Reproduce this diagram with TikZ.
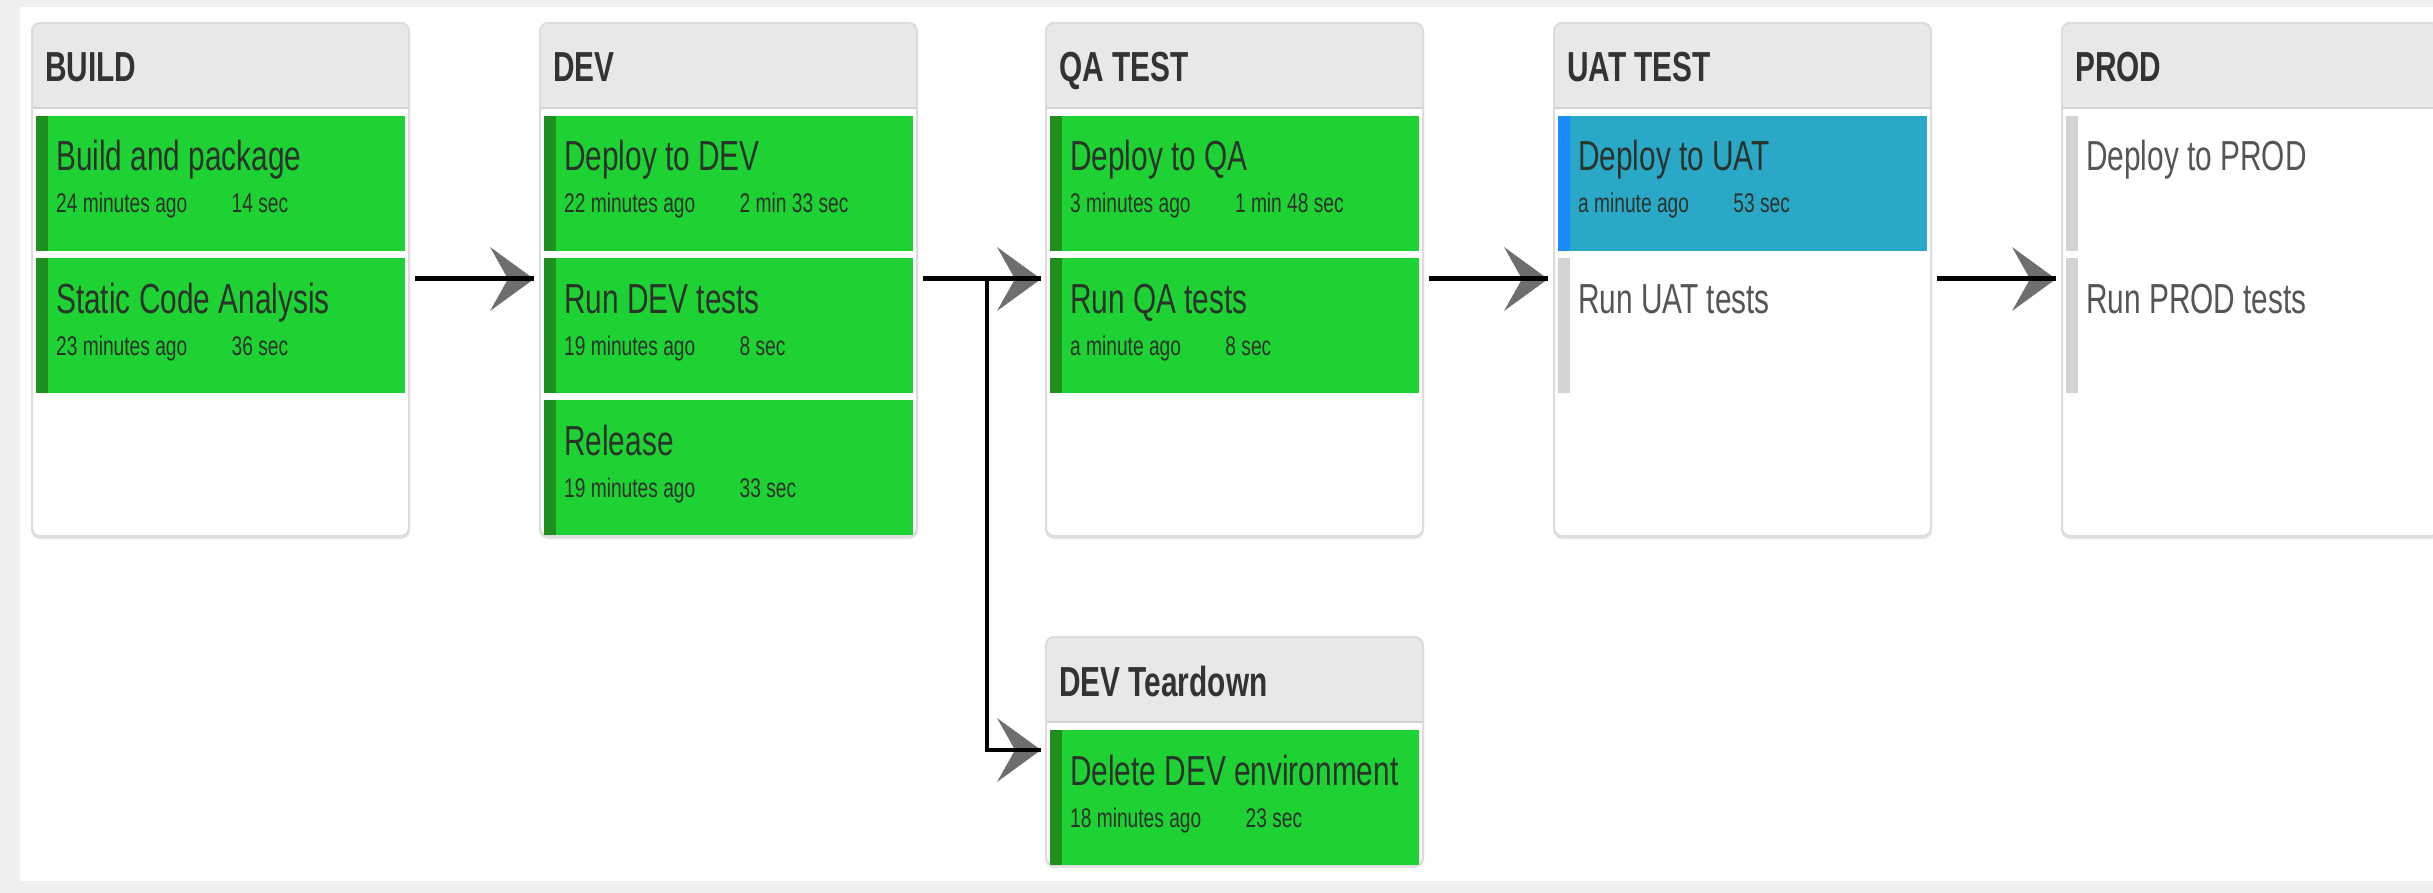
\documentclass[tikz,border=0pt]{standalone}
\usepackage{fontspec}
\usetikzlibrary{arrows.meta,calc}

% Condensed UI face used for every label
\newfontfamily\uifont{Liberation Sans}[FakeStretch=0.71]
\newcommand\titlefont{\uifont\fontsize{42}{48}\selectfont}
\newcommand\headfont{\uifont\bfseries\fontsize{42}{48}\selectfont}
\newcommand\metafont{\uifont\fontsize{27}{30}\selectfont}

\definecolor{pagegrey}{HTML}{EFEFEF}
\definecolor{cardborder}{HTML}{DCDCDC}
\definecolor{cardshadow}{HTML}{E3E3E3}
\definecolor{headfill}{HTML}{E8E8E8}
\definecolor{headline}{HTML}{D2D2D2}
\definecolor{okfill}{HTML}{1ED233}
\definecolor{okbar}{HTML}{1F8F1F}
\definecolor{runfill}{HTML}{29A9C7}
\definecolor{runbar}{HTML}{1A8CFF}
\definecolor{waitbar}{HTML}{D3D3D3}
\definecolor{inktext}{HTML}{2A332A}
\definecolor{headink}{HTML}{333333}
\definecolor{waittext}{HTML}{555555}
\definecolor{tipgrey}{HTML}{6E6E6E}

\tikzset{
  stagebox/.style={rectangle, inner sep=0pt, outer sep=0pt, minimum width=377pt,
                   fill=white, rounded corners=8pt},
  headtext/.style={font=\headfont, text=headink, inner sep=0pt},
  jobcell/.style={rectangle, inner sep=0pt, outer sep=0pt, minimum width=369pt,
                  minimum height=135pt},
  jobtitle/.style={font=\titlefont, text=inktext, inner sep=0pt},
  jobmetatext/.style={font=\metafont, text=inktext, inner sep=0pt},
  flow/.style={line width=5pt, black,
    preaction={draw, -{Stealth[length=44pt, width=64pt, inset=18pt,
                              color=tipgrey, line width=0pt]}}},
}

% stage card: #1 name, #2 left, #3 top, #4 height, #5 heading
\newcommand\stagecard[5]{%
  \fill[cardshadow, rounded corners=9pt] (#2-1,#3+2) rectangle ++(379,#4+1);
  \node[stagebox, minimum height=#4pt, anchor=north west] (#1) at (#2,#3) {};
  \begin{scope}
    \clip[rounded corners=8pt] (#1.north west) rectangle (#1.south east);
    \fill[headfill] (#1.north west) rectangle ($(#1.north east)+(0,85)$);
    \draw[headline, line width=2pt] ($(#1.north west)+(0,85)$) -- ($(#1.north east)+(0,85)$);
  \end{scope}
  \draw[cardborder, line width=2pt, rounded corners=8pt] (#1.north west) rectangle (#1.south east);
  \node[headtext, anchor=base west] (#1-h) at ($(#1.north west)+(13,59)$) {#5};
}

% job cell: #1 name, #2 stage, #3 slot, #4 fill, #5 bar, #6 text colour, #7 title
\newcommand\jobcell[7]{%
  \node[jobcell, fill=#4, anchor=north west] (#1) at ($(#2.north west)+(4,93+#3*142)$) {};
  \fill[#5] (#1.north west) rectangle ($(#1.south west)+(12,0)$);
  \node[jobtitle, text=#6, anchor=base west] (#1-t) at ($(#1.north west)+(20,55)$) {#7};
}

% run time line under a job title: #1 job, #2 when, #3 duration
\newcommand\jobmeta[3]{%
  \node[jobmetatext, anchor=base west] (#1-w) at ($(#1.north west)+(20,97)$) {#2};
  \node[jobmetatext, anchor=base west] (#1-d) at ($(#1-w.base east)+(44,0)$) {#3};
}

\begin{document}
\begin{tikzpicture}[x=1pt, y=-1pt]
  \useasboundingbox (0,0) rectangle (2433,893);
  \clip (0,0) rectangle (2433,893);

  % page
  \fill[pagegrey] (0,0) rectangle (2433,893);
  \fill[white] (20,7) rectangle (2433,881);

  % stages
  \stagecard{build}{32}{23}{513}{BUILD}
  \stagecard{dev}{540}{23}{513}{DEV}
  \stagecard{qa}{1046}{23}{513}{QA TEST}
  \stagecard{uat}{1554}{23}{513}{UAT TEST}
  \stagecard{prod}{2062}{23}{513}{PROD}
  \stagecard{teardown}{1046}{637}{228}{DEV Teardown}

  % jobs
  \jobcell{pkg}{build}{0}{okfill}{okbar}{inktext}{Build and package}
  \jobmeta{pkg}{24 minutes ago}{14 sec}
  \jobcell{sca}{build}{1}{okfill}{okbar}{inktext}{Static Code Analysis}
  \jobmeta{sca}{23 minutes ago}{36 sec}

  \jobcell{devdeploy}{dev}{0}{okfill}{okbar}{inktext}{Deploy to DEV}
  \jobmeta{devdeploy}{22 minutes ago}{2 min 33 sec}
  \jobcell{devtests}{dev}{1}{okfill}{okbar}{inktext}{Run DEV tests}
  \jobmeta{devtests}{19 minutes ago}{8 sec}
  \jobcell{release}{dev}{2}{okfill}{okbar}{inktext}{Release}
  \jobmeta{release}{19 minutes ago}{33 sec}

  \jobcell{qadeploy}{qa}{0}{okfill}{okbar}{inktext}{Deploy to QA}
  \jobmeta{qadeploy}{3 minutes ago}{1 min 48 sec}
  \jobcell{qatests}{qa}{1}{okfill}{okbar}{inktext}{Run QA tests}
  \jobmeta{qatests}{a minute ago}{8 sec}

  \jobcell{uatdeploy}{uat}{0}{runfill}{runbar}{inktext}{Deploy to UAT}
  \jobmeta{uatdeploy}{a minute ago}{53 sec}
  \jobcell{uattests}{uat}{1}{white}{waitbar}{waittext}{Run UAT tests}

  \jobcell{proddeploy}{prod}{0}{white}{waitbar}{waittext}{Deploy to PROD}
  \jobcell{prodtests}{prod}{1}{white}{waitbar}{waittext}{Run PROD tests}

  \jobcell{deldev}{teardown}{0}{okfill}{okbar}{inktext}{Delete DEV environment}
  \jobmeta{deldev}{18 minutes ago}{23 sec}

  % flow between stages
  \coordinate (row) at (0,279);
  \coordinate (tdrow) at (0,750);
  \coordinate (fork) at (987,279);

  \draw[flow] ([xshift=6pt]build.east |- row) -- ([xshift=-6pt]dev.west |- row);
  \draw[flow] ([xshift=6pt]dev.east |- row) -- ([xshift=-5pt]qa.west |- row);
  \draw[flow] ([xshift=6pt]qa.east |- row) -- ([xshift=-6pt]uat.west |- row);
  \draw[flow] ([xshift=6pt]uat.east |- row) -- ([xshift=-6pt]prod.west |- row);
  \draw[flow, line width=4pt] (fork) |- ([xshift=-5pt]teardown.west |- tdrow);
\end{tikzpicture}
\end{document}
